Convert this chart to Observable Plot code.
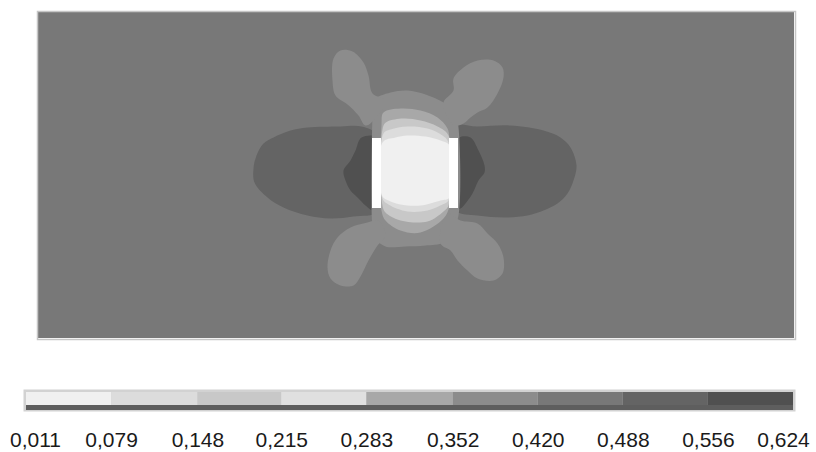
<!DOCTYPE html>
<html>
<head>
<meta charset="utf-8">
<script src="https://cdn.jsdelivr.net/npm/d3@7"></script>
<script src="https://cdn.jsdelivr.net/npm/@observablehq/plot@0.6"></script>
<style>
  html, body { margin: 0; padding: 0; background: #fff; }
  #chart svg { display: block; }
</style>
</head>
<body>
<div id="chart"></div>
<script>
// Contour level boundaries and their labels
const levels = [0.011, 0.079, 0.148, 0.215, 0.283, 0.352, 0.420, 0.488, 0.556, 0.624];
const levelLabels = ["0,011", "0,079", "0,148", "0,215", "0,283", "0,352", "0,420", "0,488", "0,556", "0,624"];
const grays = ["#f0f0f0", "#dcdcdc", "#c8c8c8", "#e0e0e0", "#a8a8a8", "#8c8c8c", "#787878", "#646464", "#505050"];

// Field extent (domain units)
const fieldX = [-378, 378];
const fieldY = [-165, 161];
const fieldValue = 0.45;

// Contour regions (outline points)
const lobeLeft = [[-163,5],[-160,18],[-153,30],[-143,36],[-126,43],[-109,46],[-76,47],[-55,47],[-38,38],[-30,0],[-38,-38],[-63,-43],[-86,-45],[-109,-42],[-133,-34],[-149,-24],[-162,-9]];
const lobeRight = [[37,47],[61,47],[94,48],[127,43],[144,36],[154,26],[160,8],[157,-7],[151,-20],[141,-30],[127,-37],[111,-42],[89,-44],[61,-42],[39,-37],[32,1]];
const crescentLeft = [[-38,36],[-55,36],[-61,23],[-66,13],[-73,3],[-71,-7],[-66,-17],[-59,-24],[-51,-32],[-44,-37],[-38,-37],[-37,-20],[-37,0],[-37,20]];
const crescentRight = [[43,36],[54,36],[62,23],[68,8],[68,1],[62,-7],[56,-20],[49,-30],[44,-35],[40,-35],[39,-20],[39,0],[39,20]];
const ring = [[-43,73],[-26,81],[-9,83],[9,79],[27,71],[39,61],[42,46],[42,-42],[36,-57],[27,-69],[9,-72],[-11,-73],[-31,-73],[-41,-65],[-44,-52],[-44,58]];
const armUpperLeft = [[-83,115],[-76,123],[-64,122],[-53,111],[-48,98],[-44,80],[-31,73],[-41,55],[-51,48],[-58,58],[-69,69],[-81,78],[-84,93]];
const armUpperRight = [[27,71],[37,83],[37,95],[47,106],[61,113],[77,113],[86,106],[87,96],[81,80],[71,66],[61,61],[54,56],[47,50],[39,48],[31,56]];
const armLowerLeft = [[-49,-49],[-66,-54],[-79,-64],[-86,-77],[-89,-94],[-86,-105],[-76,-112],[-63,-112],[-56,-103],[-48,-87],[-39,-72],[-31,-62],[-38,-47]];
const armLowerRight = [[31,-40],[44,-47],[61,-50],[71,-60],[81,-70],[87,-84],[86,-100],[77,-107],[61,-105],[51,-97],[41,-87],[34,-77],[24,-70]];
const dome5 = [[-35,48],[-33,61],[-16,65],[4,63],[21,56],[31,45],[33,33],[33,-32],[27,-45],[4,-59],[-16,-57],[-31,-47],[-35,-37]];
const dome3 = [[-33,48],[-29,52],[-13,55],[4,53],[21,47],[32,38],[32,-32],[27,-38],[11,-48],[-16,-47],[-31,-39],[-34,-32]];
const dome2 = [[-33,40],[-26,44],[-9,47],[11,45],[26,38],[32,31],[32,-27],[26,-31],[11,-37],[-9,-38],[-28,-31],[-34,-25]];
const core = [[-34,31],[-21,36],[-9,38],[9,37],[24,33],[33,28],[33,-24],[24,-27],[4,-32],[-16,-31],[-28,-27],[-34,-23]];

// Electrodes (white bars)
const electrodeX1 = [-44, 33];
const electrodeX2 = [-35, 42];
const electrodeY = [-35, 35];

const regions = [
  {name: "lobeLeft", value: 0.52, pts: lobeLeft},
  {name: "lobeRight", value: 0.52, pts: lobeRight},
  {name: "crescentLeft", value: 0.59, pts: crescentLeft},
  {name: "crescentRight", value: 0.59, pts: crescentRight},
  {name: "ring", value: 0.385, pts: ring},
  {name: "armUL", value: 0.385, pts: armUpperLeft},
  {name: "armUR", value: 0.385, pts: armUpperRight},
  {name: "armLL", value: 0.385, pts: armLowerLeft},
  {name: "armLR", value: 0.385, pts: armLowerRight},
  {name: "dome5", value: 0.317, pts: dome5},
  {name: "dome3", value: 0.18, pts: dome3},
  {name: "dome2", value: 0.113, pts: dome2},
  {name: "core", value: 0.045, pts: core}
];
const rows = regions.flatMap(r => r.pts.map(([x, y]) => ({region: r.name, value: r.value, x, y})));
const electrodes = electrodeX1.map((x1, i) => ({x1, x2: electrodeX2[i], y1: electrodeY[0], y2: electrodeY[1]}));
const segments = levels.slice(0, -1).map((v, i) => ({x1: v, x2: levels[i + 1], mid: (v + levels[i + 1]) / 2}));
const labelRows = levels.map((v, i) => ({value: v, label: levelLabels[i]}));

const colorScale = {type: "threshold", domain: levels.slice(1, -1), range: grays};
const font = "'Liberation Sans', Arial, sans-serif";

const field = Plot.plot({
  width: 816, height: 380,
  marginLeft: 38, marginRight: 22, marginTop: 12, marginBottom: 42,
  x: {domain: fieldX, axis: null},
  y: {domain: fieldY, axis: null},
  color: colorScale,
  marks: [
    Plot.rect([{x1: fieldX[0], x2: fieldX[1], y1: fieldY[0], y2: fieldY[1], value: fieldValue}],
      {x1: "x1", x2: "x2", y1: "y1", y2: "y2", fill: "value"}),
    Plot.line(rows, {x: "x", y: "y", z: "region", fill: "value", stroke: "none", curve: "catmull-rom-closed"}),
    Plot.rect(electrodes, {x1: "x1", x2: "x2", y1: "y1", y2: "y2", fill: "white"}),
    Plot.frame({stroke: "#c6c6c6", strokeWidth: 1.5, inset: -1})
  ]
});

const legend = Plot.plot({
  width: 816, height: 72,
  marginLeft: 26, marginRight: 23, marginTop: 9, marginBottom: 41,
  x: {domain: [levels[0], levels[levels.length - 1]], axis: null},
  color: colorScale,
  style: {fontFamily: font},
  marks: [
    Plot.frame({fill: "#d2d2d2", stroke: "none", insetLeft: -3, insetRight: -2}),
    Plot.rect(segments, {x1: "x1", x2: "x2", fill: "mid", insetTop: 3, insetBottom: 6}),
    Plot.rect([levels], {x1: d => d[0], x2: d => d[d.length - 1], fill: "#5e5e5e", insetTop: 16, insetBottom: 1}),
    Plot.text(labelRows.slice(1, -1), {x: "value", text: "label", frameAnchor: "bottom", dy: 29, lineAnchor: "middle", fontSize: 21, fill: "#1a1a1a", fontFamily: font}),
    Plot.text(labelRows.slice(0, 1), {x: "value", text: "label", frameAnchor: "bottom", dy: 29, dx: 9, lineAnchor: "middle", fontSize: 21, fill: "#1a1a1a", fontFamily: font}),
    Plot.text(labelRows.slice(-1), {x: "value", text: "label", frameAnchor: "bottom", dy: 29, dx: -10, lineAnchor: "middle", fontSize: 21, fill: "#1a1a1a", fontFamily: font})
  ]
});

document.getElementById("chart").append(field, legend);
</script>
</body>
</html>
